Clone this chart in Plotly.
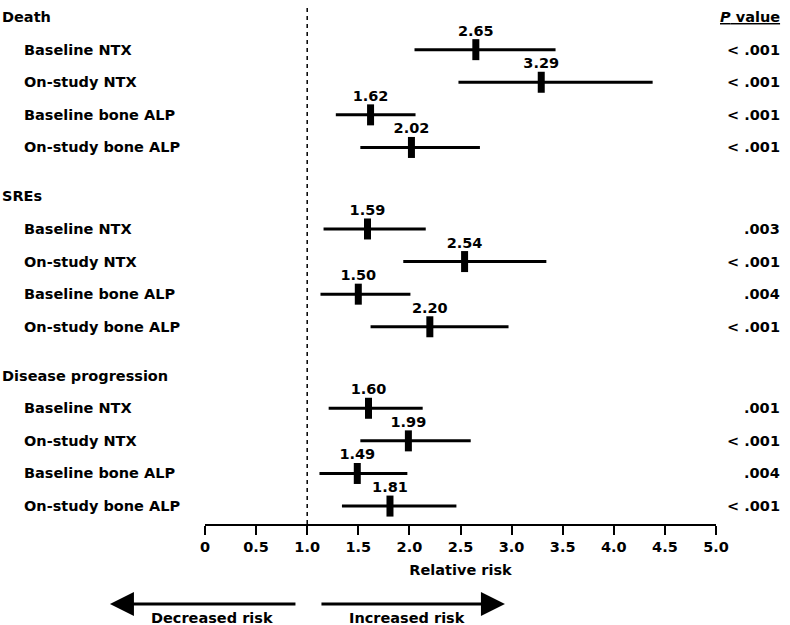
import plotly.graph_objects as go

# 데이터
groups = ["Death", "SREs", "Disease progression"]
measures = ["Baseline NTX", "On-study NTX", "Baseline bone ALP", "On-study bone ALP"]
rr = [2.65, 3.29, 1.62, 2.02,
      1.59, 2.54, 1.50, 2.20,
      1.60, 1.99, 1.49, 1.81]
ci_low = [2.05, 2.48, 1.28, 1.52,
          1.16, 1.94, 1.13, 1.62,
          1.21, 1.52, 1.12, 1.34]
ci_high = [3.43, 4.38, 2.06, 2.69,
           2.16, 3.34, 2.01, 2.97,
           2.13, 2.60, 1.98, 2.46]
p_values = ["< .001", "< .001", "< .001", "< .001",
            ".003", "< .001", ".004", "< .001",
            ".001", "< .001", ".004", "< .001"]
tick_vals = [0, 0.5, 1.0, 1.5, 2.0, 2.5, 3.0, 3.5, 4.0, 4.5, 5.0]
tick_text = ["0", "0.5", "1.0", "1.5", "2.0", "2.5", "3.0", "3.5", "4.0", "4.5", "5.0"]

FONT = "DejaVu Sans"
fs = 14.5

# 행 위치 (그룹 헤더 + 4개 항목, 그룹 사이 간격 1.5)
header_y = []
row_y = []
row_label = []
for g, name in enumerate(groups):
    h = g * 5.5
    header_y.append(h)
    for i, m in enumerate(measures):
        row_y.append(h + 1 + i)
        row_label.append(m)

err_plus = [hi - v for hi, v in zip(ci_high, rr)]
err_minus = [v - lo for lo, v in zip(ci_low, rr)]

fig = go.Figure()

# 신뢰구간 선
fig.add_trace(go.Scatter(
    x=rr, y=row_y, mode='markers',
    marker=dict(size=0.1, color='black'),
    error_x=dict(type='data', array=err_plus, arrayminus=err_minus,
                 width=0, thickness=3, color='black'),
    hoverinfo='skip', showlegend=False
))

# 점 추정치 (직사각형 마커) + 값 라벨
fig.add_trace(go.Scatter(
    x=rr, y=row_y, mode='markers+text',
    marker=dict(symbol='line-ns', size=15, line=dict(width=7, color='black')),
    text=[f"{v:.2f}" for v in rr],
    textposition='top center',
    textfont=dict(family=FONT, size=fs, color='black', weight='bold'),
    cliponaxis=False, showlegend=False,
    hovertemplate='%{x:.2f}<extra></extra>'
))

annotations = []
# 그룹 제목
for name, y in zip(groups, header_y):
    annotations.append(dict(text=f"<b>{name}</b>", x=-0.401, y=y, xref='paper', yref='y',
                            xanchor='left', yanchor='middle', showarrow=False,
                            font=dict(family=FONT, size=fs, color='black')))
# 항목 라벨 + P 값
for lab, y, p in zip(row_label, row_y, p_values):
    annotations.append(dict(text=f"<b>{lab}</b>", x=-0.358, y=y, xref='paper', yref='y',
                            xanchor='left', yanchor='middle', showarrow=False,
                            font=dict(family=FONT, size=fs, color='black')))
    annotations.append(dict(text=f"<b>{p}</b>", x=1.129, y=y, xref='paper', yref='y',
                            xanchor='right', yanchor='middle', showarrow=False,
                            font=dict(family=FONT, size=fs, color='black')))
annotations.append(dict(text="<b><u><i>P</i> value</u></b>", x=1.129, y=header_y[0], xref='paper', yref='y',
                        xanchor='right', yanchor='middle', showarrow=False,
                        font=dict(family=FONT, size=fs, color='black')))

# 화살표
annotations.append(dict(x=-0.186, y=-0.154, xref='paper', yref='paper', text='',
                        showarrow=True, ax=187, ay=0, axref='pixel', ayref='pixel',
                        arrowhead=2, arrowsize=1.6, arrowwidth=3, arrowcolor='black'))
annotations.append(dict(x=0.587, y=-0.154, xref='paper', yref='paper', text='',
                        showarrow=True, ax=-185, ay=0, axref='pixel', ayref='pixel',
                        arrowhead=2, arrowsize=1.6, arrowwidth=3, arrowcolor='black'))
annotations.append(dict(text="<b>Decreased risk</b>", x=0.014, y=-0.181, xref='paper', yref='paper',
                        xanchor='center', yanchor='middle', showarrow=False,
                        font=dict(family=FONT, size=fs, color='black')))
annotations.append(dict(text="<b>Increased risk</b>", x=0.395, y=-0.181, xref='paper', yref='paper',
                        xanchor='center', yanchor='middle', showarrow=False,
                        font=dict(family=FONT, size=fs, color='black')))

fig.update_layout(
    width=790, height=625,
    margin=dict(l=205, r=74, t=5, b=101),
    plot_bgcolor='white', paper_bgcolor='white',
    xaxis=dict(range=[0, 5], tickvals=tick_vals, ticktext=tick_text,
               showline=True, linecolor='black', linewidth=1.5,
               ticks='outside', ticklen=9, tickwidth=1.5, tickcolor='black',
               showgrid=False, zeroline=False,
               tickfont=dict(family=FONT, size=fs, color='black', weight='bold'),
               title=dict(text="<b>Relative risk</b>", standoff=11,
                          font=dict(family=FONT, size=fs, color='black'))),
    yaxis=dict(range=[15.55, -0.37], visible=False),
    shapes=[dict(type='line', xref='x', yref='paper', x0=1, x1=1, y0=0, y1=1,
                 line=dict(color='black', width=1.5, dash='4px,4px'))],
    annotations=annotations,
)

# 브라우저 기본 body 여백 제거
fig.write_html("out.html", config={'displayModeBar': False},
               post_script="document.body.style.margin='0';document.body.style.overflow='hidden';")
